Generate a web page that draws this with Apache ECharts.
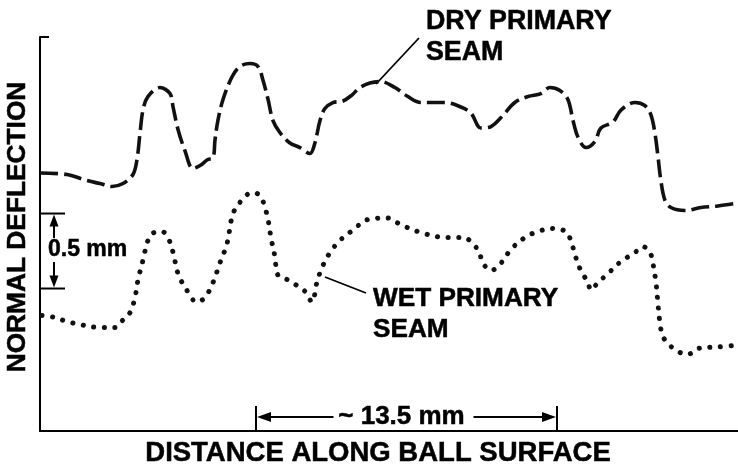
<!DOCTYPE html>
<html>
<head>
<meta charset="utf-8">
<script src="https://cdn.jsdelivr.net/npm/echarts@6/dist/echarts.min.js"></script>
<style>
  html, body { margin: 0; padding: 0; background: #fff; }
  #chart { width: 738px; height: 465px; }
</style>
</head>
<body>
<div id="chart"></div>
<script>
// Seam profiles: distance along the ball surface (mm) vs normal deflection (mm)
const dryDistance = [0, 1.21, 2.11, 2.69, 3.23, 3.72, 4.17, 4.35, 4.49, 4.62, 4.84, 5.38, 5.83, 5.97, 6.19, 6.50, 6.86, 7.18, 7.53, 7.76, 7.85, 7.98, 8.21, 8.61, 8.97, 9.42, 9.78, 10.00, 10.23, 10.45, 10.76, 11.21, 11.66, 12.11, 12.33, 12.56, 12.78, 13.14, 13.59, 13.99, 14.35, 14.80, 15.29, 15.92, 16.50, 17.09, 18.16, 18.88, 19.33, 19.78, 20.23, 20.68, 21.30, 21.89, 22.47, 22.87, 23.32, 23.68, 23.91, 24.13, 24.49, 24.89, 25.16, 25.70, 26.06, 26.69, 27.13, 27.40, 27.58, 27.72, 27.85, 28.03, 28.30, 28.93, 29.65, 30.41, 31.31];
const dryDeflection = [1.72, 1.71, 1.67, 1.65, 1.63, 1.65, 1.71, 1.81, 1.99, 2.14, 2.23, 2.29, 2.25, 2.16, 2.01, 1.87, 1.75, 1.77, 1.81, 1.82, 1.94, 2.07, 2.21, 2.36, 2.43, 2.45, 2.43, 2.34, 2.21, 2.07, 1.99, 1.92, 1.89, 1.85, 1.92, 2.07, 2.15, 2.19, 2.20, 2.24, 2.29, 2.32, 2.33, 2.29, 2.23, 2.19, 2.19, 2.16, 2.12, 2.02, 2.03, 2.09, 2.19, 2.23, 2.25, 2.29, 2.27, 2.21, 2.07, 1.96, 1.89, 1.93, 2.02, 2.06, 2.14, 2.19, 2.17, 2.11, 1.99, 1.83, 1.67, 1.54, 1.49, 1.47, 1.49, 1.50, 1.52];

const wetDistance = [0.09, 0.58, 1.21, 1.79, 2.69, 3.36, 3.72, 4.04, 4.26, 4.40, 4.62, 4.84, 5.07, 5.47, 5.74, 5.97, 6.19, 6.50, 7.04, 7.40, 7.76, 8.07, 8.39, 8.66, 9.06, 9.51, 9.87, 10.09, 10.23, 10.36, 10.54, 10.67, 11.08, 11.53, 11.89, 12.20, 12.42, 12.65, 13.01, 13.45, 14.04, 14.71, 15.61, 16.14, 16.95, 18.21, 18.97, 19.64, 19.87, 20.23, 20.68, 21.12, 21.75, 22.33, 22.96, 23.59, 23.81, 24.03, 24.26, 24.58, 24.71, 25.03, 25.48, 26.06, 26.69, 27.04, 27.36, 27.49, 27.63, 27.72, 27.81, 27.94, 28.26, 28.61, 29.06, 29.51, 30.41, 31.17];
const wetDeflection = [0.77, 0.76, 0.73, 0.71, 0.69, 0.69, 0.74, 0.79, 0.89, 1.01, 1.14, 1.27, 1.32, 1.33, 1.29, 1.19, 1.05, 0.96, 0.86, 0.89, 0.99, 1.12, 1.25, 1.45, 1.54, 1.59, 1.57, 1.49, 1.41, 1.29, 1.16, 1.04, 1.01, 0.97, 0.93, 0.86, 0.99, 1.09, 1.19, 1.27, 1.34, 1.41, 1.42, 1.38, 1.33, 1.29, 1.29, 1.21, 1.12, 1.07, 1.12, 1.21, 1.29, 1.33, 1.35, 1.33, 1.27, 1.16, 1.07, 0.99, 0.94, 0.99, 1.05, 1.13, 1.19, 1.23, 1.19, 1.12, 0.99, 0.85, 0.72, 0.63, 0.57, 0.53, 0.51, 0.55, 0.56, 0.57];

// Reference dimensions shown on the plot (mm)
const scaleBarBase = 0.95;
const scaleBarSize = 0.5;
const spanStart = 9.69;
const spanLength = 13.5;

const xMax = 31.31;
const yMax = 2.627;

const FONT = '"Liberation Sans", Arial, Helvetica, sans-serif';

function pairs(xs, ys) { return xs.map((x, i) => [x, ys[i]]); }

const chart = echarts.init(document.getElementById('chart'), null, { renderer: 'canvas' });

chart.setOption({
  animation: false,
  backgroundColor: '#ffffff',
  grid: { left: 40, right: 0, top: 37, bottom: 34 },
  xAxis: {
    type: 'value', min: 0, max: xMax,
    axisLine: { lineStyle: { color: '#000', width: 2 } },
    axisTick: { show: false }, axisLabel: { show: false }, splitLine: { show: false }
  },
  yAxis: {
    type: 'value', min: 0, max: yMax, interval: yMax,
    axisLine: { show: true, lineStyle: { color: '#000', width: 2 } },
    axisTick: { show: true, inside: true, length: 9, lineStyle: { color: '#000', width: 2 } },
    axisLabel: { show: false }, splitLine: { show: false }
  },
  series: [
    {
      name: 'DRY PRIMARY SEAM', type: 'line', data: pairs(dryDistance, dryDeflection),
      smooth: 0.35, symbol: 'none',
      lineStyle: { color: '#111', width: 3.6, type: [18, 6], cap: 'butt' }
    },
    {
      name: 'WET PRIMARY SEAM', type: 'line', data: pairs(wetDistance, wetDeflection),
      smooth: 0.35, symbol: 'none',
      lineStyle: { color: '#111', width: 5, type: [0.1, 10.5], cap: 'round' }
    }
  ]
});

const px = v => chart.convertToPixel({ xAxisIndex: 0 }, v);
const py = v => chart.convertToPixel({ yAxisIndex: 0 }, v);

const g = [];
function line(x1, y1, x2, y2, w) {
  g.push({ type: 'line', shape: { x1, y1, x2, y2 }, style: { stroke: '#000', lineWidth: w || 2 }, silent: true });
}
function tri(points) {
  g.push({ type: 'polygon', shape: { points }, style: { fill: '#000' }, silent: true });
}
function text(str, x, y, size, opts) {
  g.push(Object.assign({
    type: 'text', x, y, silent: true,
    style: Object.assign({ text: str, fill: '#000', font: 'bold ' + size + 'px ' + FONT,
      align: 'left', verticalAlign: 'middle', stroke: '#000', lineWidth: 0.5 }, (opts && opts.style) || {})
  }, (opts && opts.el) || {}));
}

// Vertical scale bar: 0.5 mm
const x0 = px(0);
const yLo = py(scaleBarBase), yHi = py(scaleBarBase + scaleBarSize);
const yMid = (yLo + yHi) / 2 - 1;
const ax = x0 + 14;
line(x0, yHi, x0 + 25, yHi);
line(x0, yLo, x0 + 25, yLo);
line(ax, yHi + 6, ax, yMid - 12);
line(ax, yMid + 12, ax, yLo - 6);
tri([[ax, yHi + 1], [ax - 4.5, yHi + 13], [ax + 4.5, yHi + 13]]);
tri([[ax, yLo - 1], [ax - 4.5, yLo - 13], [ax + 4.5, yLo - 13]]);
g.push({ type: 'rect', shape: { x: x0 + 8, y: yMid - 10, width: 80, height: 20 }, style: { fill: '#fff' }, silent: true });
text('0.5 mm', x0 + 8, yMid, 23);

// Horizontal dimension: ~13.5 mm
const xa = px(spanStart), xb = px(spanStart + spanLength);
const yBase = py(0);
const yArr = yBase - 14;
line(xa, yBase - 25, xa, yBase);
line(xb, yBase - 25, xb, yBase);
const xm = (xa + xb) / 2 - 5;
line(xa + 6, yArr, xm - 68, yArr);
line(xm + 72, yArr, xb - 6, yArr);
tri([[xa + 1, yArr], [xa + 15, yArr - 5], [xa + 15, yArr + 5]]);
tri([[xb - 1, yArr], [xb - 15, yArr - 5], [xb - 15, yArr + 5]]);
text('~ 13.5 mm', xm, yArr, 26, { style: { align: 'center' } });

// Curve labels with leader lines
text('DRY PRIMARY', 426, 22, 26.8);
text('SEAM', 426, 53, 26.8);
line(419, 38, 376, 84, 1.8);
text('WET PRIMARY', 373, 299, 26.2);
text('SEAM', 373, 330, 26.2);
line(325, 277, 366, 293, 1.8);

// Axis titles
text('DISTANCE ALONG BALL SURFACE', 378, 453, 27.5, { style: { align: 'center' } });
text('NORMAL DEFLECTION', 18, 227, 26.3, { style: { align: 'center' }, el: { rotation: Math.PI / 2 } });

chart.setOption({ graphic: g });
</script>
</body>
</html>
